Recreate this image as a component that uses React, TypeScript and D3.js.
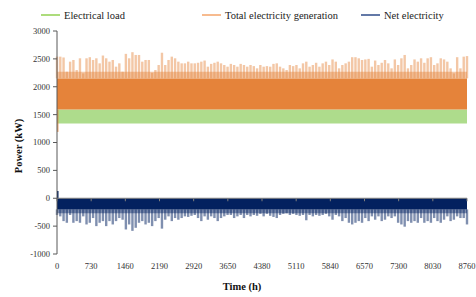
import React from 'react';
import * as d3 from 'd3';

// hourly series summarised as the envelope (126 samples over 8760 h)
const genPeak = [
  2540, 2540, 2525, 2270, 2450, 2480, 2300, 2510, 2240, 2510, 2530, 2480, 2510, 2420,
  2560, 2510, 2450, 2480, 2360, 2420, 2270, 2590, 2510, 2620, 2570, 2570, 2450, 2480,
  2480, 2250, 2300, 2390, 2610, 2390, 2480, 2540, 2510, 2450, 2420, 2420, 2450, 2420,
  2420, 2430, 2450, 2470, 2360, 2410, 2430, 2450, 2420, 2390, 2360, 2410, 2390, 2360,
  2410, 2390, 2360, 2390, 2370, 2330, 2390, 2360, 2370, 2360, 2410, 2420, 2360, 2330,
  2300, 2390, 2370, 2390, 2330, 2420, 2450, 2360, 2390, 2430, 2360, 2420, 2450,
  2390, 2490, 2450, 2330, 2390, 2420, 2450, 2530, 2530, 2510, 2480, 2490, 2500, 2360,
  2470, 2390, 2430, 2480, 2420, 2330, 2490, 2390, 2510, 2570, 2330, 2390, 2490, 2450,
  2510, 2430, 2510, 2530, 2390, 2420, 2510, 2490, 2450, 2330, 2240, 2530, 2330, 2540, 2550,
];

const netTrough = [
  -300, -325, -410, -440, -300, -440, -410, -440, -325, -470, -440, -355, -500, -440,
  -410, -500, -410, -470, -410, -355, -385, -560, -470, -585, -530, -440, -410, -470,
  -440, -500, -410, -355, -545, -385, -325, -410, -355, -385, -355, -325, -335, -315,
  -300, -355, -410, -325, -385, -325, -355, -410, -355, -325, -300, -300, -355, -325,
  -300, -355, -300, -325, -300, -315, -280, -325, -280, -315, -335, -355, -300, -280,
  -270, -300, -280, -300, -315, -300, -395, -300, -325, -300, -315, -300, -280,
  -325, -385, -300, -325, -410, -355, -440, -470, -440, -410, -440, -355, -410, -325,
  -385, -325, -410, -385, -325, -355, -325, -440, -470, -510, -410, -440, -410, -440,
  -355, -440, -410, -440, -355, -410, -440, -385, -325, -410, -385, -325, -355, -355, -470,
];

// dense bands (kW)
const loadBand = [1340, 1590];
const genBand = [1590, 2150];
const genLightTop = 2270;
const netBand = [0, -200];
const netLightBottom = -270;
// first hour of the year
const firstHourGen = 1190;
const firstHourNet = 130;

const xTicks = [0, 730, 1460, 2190, 2920, 3650, 4380, 5110, 5840, 6570, 7300, 8030, 8760];
const yTicks = [-1000, -500, 0, 500, 1000, 1500, 2000, 2500, 3000];

const legendItems = [
  { label: 'Electrical load', color: '#92D050', x: 41 },
  { label: 'Total electricity generation', color: '#F4A46A', x: 202 },
  { label: 'Net electricity', color: '#2F4D8A', x: 361 },
];

const width = 476;
const height = 297;
const font = "'Liberation Serif', 'DejaVu Serif', 'Times New Roman', Times, serif";

export default function App() {
  const x = d3.scaleLinear().domain([0, 8760]).range([57, 467]);
  const y = d3.scaleLinear().domain([-1000, 3000]).range([254, 31]);

  const step = 8760 / (genPeak.length - 1);
  const hourOf = (i: number) => i * step;
  const barW = 2.4;

  const band = (lo: number, hi: number) => {
    const area = d3.area<number>()
      .x(d => x(d))
      .y0(y(lo))
      .y1(y(hi));
    return area([0, 8760]) || '';
  };

  const txt = { fontFamily: font };

  return (
    <svg width={width} height={height} style={{ position: 'absolute', left: 0, top: 0, fontFamily: font }}>
      <rect width={width} height={height} fill="#fff" />

      {/* legend */}
      {legendItems.map(item => (
        <g key={item.label}>
          <line x1={item.x} x2={item.x + 19} y1={15} y2={15} stroke={item.color} strokeWidth={1.5} />
          <text x={item.x + 23} y={15} dy="0.35em" fontSize={10.5} fill="#222" style={txt}>{item.label}</text>
        </g>
      ))}

      {/* electrical load */}
      <path d={band(loadBand[0], loadBand[1])} fill="#AEDC8C" />

      {/* total generation */}
      <path d={band(genBand[0], genBand[1])} fill="#E5833A" />
      <path d={band(genBand[1], genLightTop)} fill="#E5833A" fillOpacity={0.45} />
      {genPeak.map((v, i) => (
        <rect key={'g' + i} x={x(hourOf(i)) - barW / 2} width={barW}
          y={y(v)} height={y(genBand[1]) - y(v)} fill="#E5833A" fillOpacity={0.45} />
      ))}
      <rect x={x(0)} width={1.5} y={y(genBand[0])} height={y(firstHourGen) - y(genBand[0])} fill="#E5833A" fillOpacity={0.7} />

      {/* net electricity */}
      {netTrough.map((v, i) => (
        <rect key={'n' + i} x={x(hourOf(i)) - barW / 2} width={barW}
          y={y(netBand[1])} height={y(v) - y(netBand[1])} fill="#002060" fillOpacity={0.5} />
      ))}
      <path d={band(netLightBottom, netBand[1])} fill="#002060" fillOpacity={0.45} />
      <path d={band(netBand[1], netBand[0])} fill="#03215F" />
      <rect x={x(0)} width={1.5} y={y(firstHourNet)} height={y(0) - y(firstHourNet)} fill="#002060" />

      {/* horizontal axis at zero */}
      <line x1={x(0)} x2={x(8760)} y1={y(0)} y2={y(0)} stroke="#7f7f7f" strokeWidth={1} />
      {xTicks.map(t => (
        <g key={'xt' + t}>
          <line x1={x(t)} x2={x(t)} y1={y(0)} y2={y(0) + 3} stroke="#7f7f7f" />
          <text x={x(t)} y={266} dy="0.35em" textAnchor="middle" fontSize={8.5} fill="#333" style={txt}>{t}</text>
        </g>
      ))}

      {/* vertical axis */}
      <line x1={x(0)} x2={x(0)} y1={y(3000)} y2={y(-1000)} stroke="#595959" strokeWidth={1} />
      {yTicks.map(t => (
        <g key={'yt' + t}>
          <line x1={x(0) - 4} x2={x(0)} y1={y(t)} y2={y(t)} stroke="#595959" />
          <text x={x(0) - 7} y={y(t)} dy="0.35em" textAnchor="end" fontSize={8.5} fill="#333" style={txt}>{t}</text>
        </g>
      ))}

      {/* axis titles */}
      <text x={242} y={286} dy="0.35em" textAnchor="middle" fontSize={10.5} fontWeight="bold" fill="#111" style={txt}>Time (h)</text>
      <text transform="translate(18,146) rotate(-90)" dy="0.35em" textAnchor="middle" fontSize={10.5} fontWeight="bold" fill="#111" style={txt}>Power (kW)</text>
    </svg>
  );
}
